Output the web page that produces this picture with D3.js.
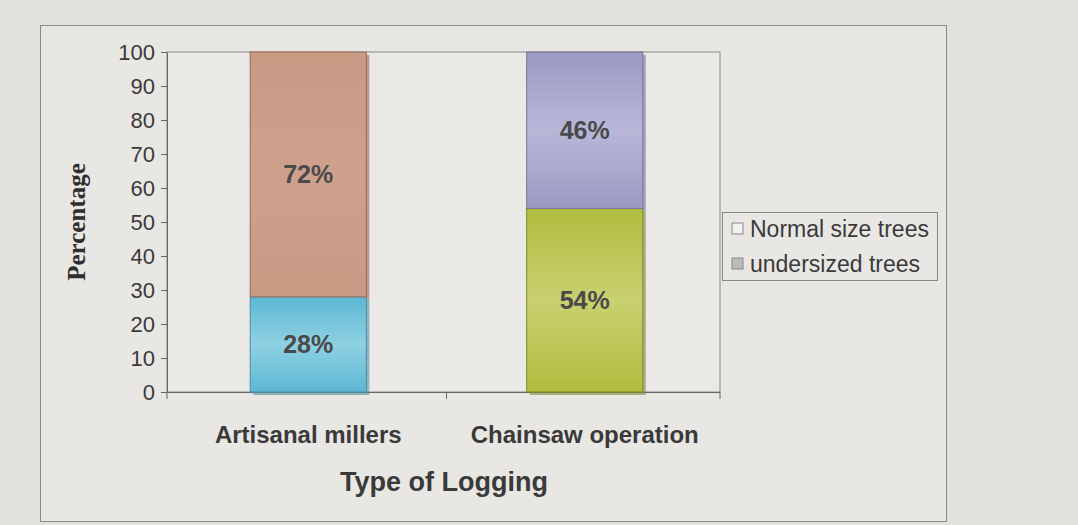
<!DOCTYPE html>
<html>
<head>
<meta charset="utf-8">
<script src="https://cdn.jsdelivr.net/npm/d3@7"></script>
<style>
  body { margin: 0; background: #e4e2df; }
  svg { display: block; }
</style>
</head>
<body>
<svg id="chart"></svg>
<script>
const categories = ["Artisanal millers", "Chainsaw operation"];
const seriesNames = ["Normal size trees", "undersized trees"];
const undersized = [28, 54];
const normal = [72, 46];
const yTicks = [0, 10, 20, 30, 40, 50, 60, 70, 80, 90, 100];

const width = 1078, height = 525;
const plot = { left: 167, right: 720, top: 52, bottom: 392 };
const sans = "Liberation Sans, Arial, sans-serif";

const svg = d3.select("#chart").attr("width", width).attr("height", height);

// gradients per segment colour
const defs = svg.append("defs");
const fills = [
  { id: "gBlue", a: "#8fd0e2", b: "#5cb8d3" },
  { id: "gBrown", a: "#cfa08c", b: "#c89a84" },
  { id: "gGreen", a: "#c9d070", b: "#b0bd3e" },
  { id: "gPurple", a: "#b9b7d8", b: "#9c99c2" }
];
fills.forEach(f => {
  const g = defs.append("linearGradient").attr("id", f.id)
    .attr("x1", 0).attr("x2", 0).attr("y1", 0).attr("y2", 1);
  g.append("stop").attr("offset", "0%").attr("stop-color", f.b);
  g.append("stop").attr("offset", "50%").attr("stop-color", f.a);
  g.append("stop").attr("offset", "100%").attr("stop-color", f.b);
});
const segFill = [["url(#gBlue)", "url(#gBrown)"], ["url(#gGreen)", "url(#gPurple)"]];
const segStroke = [["#4e8fa2", "#9a6a55"], ["#7d8a33", "#77749a"]];

// outer frame
svg.append("rect")
  .attr("x", 40.5).attr("y", 25.5).attr("width", 906).attr("height", 496)
  .attr("fill", "#e9e7e4").attr("stroke", "#8a8886");

// plot area
svg.append("rect")
  .attr("x", plot.left).attr("y", plot.top)
  .attr("width", plot.right - plot.left).attr("height", plot.bottom - plot.top)
  .attr("fill", "#ebe9e6").attr("stroke", "#8a8886");

const x = d3.scaleBand().domain(categories)
  .range([plot.left + 3, plot.right + 3]).paddingInner(0.58).paddingOuter(0.29);
const y = d3.scaleLinear().domain([0, 100]).range([plot.bottom, plot.top]);

// y axis
const yAxis = d3.axisLeft(y).tickValues(yTicks).tickSize(6).tickSizeOuter(0).tickPadding(6);
const yg = svg.append("g").attr("transform", `translate(${plot.left},0)`).call(yAxis);
yg.select(".domain").attr("stroke", "#666");
yg.selectAll(".tick line").attr("stroke", "#666");
yg.selectAll(".tick text")
  .attr("fill", "#3a3a3a").style("font-family", sans)
  .style("font-size", "22px");

// x axis with ticks between categories
svg.append("line")
  .attr("x1", plot.left - 6).attr("x2", plot.right)
  .attr("y1", plot.bottom + 0.5).attr("y2", plot.bottom + 0.5)
  .attr("stroke", "#666");
const sepTicks = [plot.left, (x(categories[0]) + x.bandwidth() + x(categories[1])) / 2, plot.right];
svg.selectAll(".xtick").data(sepTicks).enter().append("line")
  .attr("x1", d => d).attr("x2", d => d)
  .attr("y1", plot.bottom).attr("y2", plot.bottom + 7)
  .attr("stroke", "#666");

svg.append("g").selectAll("text").data(categories).enter().append("text")
  .attr("x", d => x(d) + x.bandwidth() / 2)
  .attr("y", 443)
  .attr("text-anchor", "middle")
  .attr("fill", "#3a3a3a")
  .style("font-family", sans)
  .style("font-size", "24px").style("font-weight", "bold")
  .text(d => d);

// stacked bars
const stacks = categories.map((c, i) => [
  { cat: c, i: i, s: 0, y0: 0, y1: undersized[i], v: undersized[i] },
  { cat: c, i: i, s: 1, y0: undersized[i], y1: undersized[i] + normal[i], v: normal[i] }
]).flat();

const bars = svg.append("g");
// shadow
bars.selectAll(".shadow").data(stacks).enter().append("rect")
  .attr("x", d => x(d.cat) + 3)
  .attr("y", d => y(d.y1) + 3)
  .attr("width", x.bandwidth())
  .attr("height", d => y(d.y0) - y(d.y1))
  .attr("fill", d => segStroke[d.i][d.s]).attr("opacity", 0.6);
bars.selectAll(".seg").data(stacks).enter().append("rect")
  .attr("x", d => x(d.cat))
  .attr("y", d => y(d.y1))
  .attr("width", x.bandwidth())
  .attr("height", d => y(d.y0) - y(d.y1))
  .attr("fill", d => segFill[d.i][d.s])
  .attr("stroke", d => segStroke[d.i][d.s]).attr("stroke-width", 1);

bars.selectAll(".lbl").data(stacks).enter().append("text")
  .attr("x", d => x(d.cat) + x.bandwidth() / 2)
  .attr("y", d => y((d.y0 + d.y1) / 2) + 9)
  .attr("text-anchor", "middle")
  .attr("fill", "#4a4a4a")
  .style("font-family", sans)
  .style("font-size", "25px").style("font-weight", "bold")
  .text(d => d.v + "%");

// axis titles
svg.append("text")
  .attr("transform", "translate(85,222) rotate(-90)")
  .attr("text-anchor", "middle")
  .attr("fill", "#2e2e2e")
  .style("font-family", "Liberation Serif, Times New Roman, serif")
  .style("font-size", "25px").style("font-weight", "bold")
  .text("Percentage");

svg.append("text")
  .attr("x", 444).attr("y", 491)
  .attr("text-anchor", "middle")
  .attr("fill", "#3a3a3a")
  .style("font-family", sans)
  .style("font-size", "27px").style("font-weight", "bold")
  .text("Type of Logging");

// legend
const legend = svg.append("g").attr("transform", "translate(722,212)");
legend.append("rect").attr("x", 0.5).attr("y", 0.5).attr("width", 215).attr("height", 68)
  .attr("fill", "#e9e7e4").attr("stroke", "#8a8886");
const legendFill = ["#f2f1ef", "#bdbbb8"];
const li = legend.selectAll(".li").data(seriesNames).enter().append("g")
  .attr("transform", (d, i) => `translate(10,${17 + i * 35})`);
li.append("rect").attr("x", 0).attr("y", -6).attr("width", 11).attr("height", 11)
  .attr("fill", (d, i) => legendFill[i]).attr("stroke", "#888");
li.append("text").attr("x", 18).attr("y", 8)
  .attr("fill", "#3a3a3a")
  .style("font-family", sans)
  .style("font-size", "23px")
  .text(d => d);
</script>
</body>
</html>
